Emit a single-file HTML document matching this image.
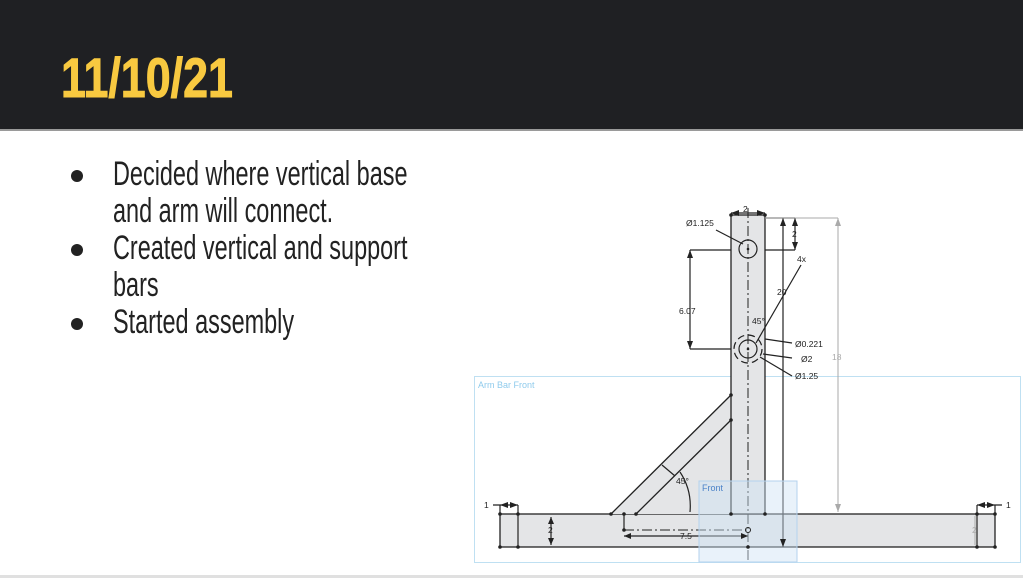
<!DOCTYPE html>
<html><head><meta charset="utf-8"><style>
html,body{margin:0;padding:0;background:#fff;}
svg{display:block;}
</style></head><body>
<svg width="1023" height="578" viewBox="0 0 1023 578" xmlns="http://www.w3.org/2000/svg" font-family="Liberation Sans, sans-serif">
<rect x="0" y="0" width="1023" height="130" fill="#1f2023"/>
<rect x="0" y="129" width="1023" height="2" fill="#9a9a9a"/>
<text x="0" y="0" font-size="56" font-weight="bold" fill="#f8c940" stroke="#f8c940" stroke-width="1" transform="translate(61,97) scale(0.8,1)">11/10/21</text>
<g fill="#222" font-size="34">
<circle cx="77" cy="176" r="6"/>
<circle cx="77" cy="250" r="6"/>
<circle cx="77" cy="324" r="6"/>
<text transform="translate(113,185) scale(0.69,1)">Decided where vertical base</text>
<text transform="translate(113,222) scale(0.69,1)">and arm will connect.</text>
<text transform="translate(113,259) scale(0.69,1)">Created vertical and support</text>
<text transform="translate(113,296) scale(0.69,1)">bars</text>
<text transform="translate(113,333) scale(0.69,1)">Started assembly</text>
</g>
<rect x="0" y="575" width="1023" height="3" fill="#e0e0e0"/>
<!-- drawing -->
<rect x="474.5" y="376.5" width="546" height="186" fill="none" stroke="#bfe0f2" stroke-width="1"/>
<text x="478" y="388" font-size="9" fill="#8fcbec">Arm Bar Front</text>
<g stroke="#222" stroke-width="1.3" fill="#e4e5e7">
<rect x="500" y="514" width="495" height="33"/>
<polygon points="611,514 731,395 731,514" stroke="none"/>
<line x1="611" y1="514" x2="731" y2="395"/>
<line x1="636" y1="514" x2="731" y2="420"/>
<rect x="731" y="215" width="34" height="299"/>
</g>
<g stroke="#222" stroke-width="1.2" fill="none">
<line x1="518" y1="514" x2="518" y2="547"/>
<line x1="977" y1="514" x2="977" y2="547"/>
<circle cx="748" cy="249" r="9"/>
<circle cx="748" cy="349" r="9"/>
<circle cx="748" cy="349" r="14" stroke-dasharray="7,4"/>
<line x1="748" y1="208" x2="748" y2="560" stroke-dasharray="10,3,2,3" stroke-width="1"/>
<line x1="624" y1="530" x2="748" y2="530" stroke-dasharray="10,3,2,3" stroke-width="1"/>
<line x1="731" y1="213" x2="765" y2="213"/>
<line x1="765" y1="218" x2="795" y2="218"/>
<line x1="795" y1="218" x2="795" y2="250"/>
<line x1="783" y1="218" x2="783" y2="547"/>
<line x1="690" y1="250" x2="731" y2="250"/>
<line x1="765" y1="250" x2="795" y2="250"/>
<line x1="690" y1="349" x2="731" y2="349"/>
<line x1="690" y1="250" x2="690" y2="349"/>
<line x1="716" y1="230" x2="743" y2="244"/>
<line x1="801" y1="265" x2="756" y2="343"/>
<line x1="765" y1="339" x2="792" y2="343"/>
<line x1="763" y1="354" x2="792" y2="358"/>
<line x1="760" y1="357" x2="792" y2="376"/>
<line x1="624" y1="536" x2="748" y2="536"/>
<line x1="624" y1="514" x2="624" y2="530"/>
<line x1="551" y1="517" x2="551" y2="545"/>
<line x1="493" y1="505" x2="518" y2="505"/>
<line x1="977" y1="505" x2="1002" y2="505"/>
<line x1="500" y1="505" x2="500" y2="514"/>
<line x1="518" y1="505" x2="518" y2="514"/>
<line x1="977" y1="505" x2="977" y2="514"/>
<line x1="995" y1="505" x2="995" y2="514"/>
<line x1="662" y1="465" x2="675" y2="476"/>
<path d="M680 472 Q 692 490 690 512"/>
</g>
<g stroke="#aaa" stroke-width="1" fill="none">
<line x1="765" y1="218" x2="838" y2="218"/>
<line x1="838" y1="218" x2="838" y2="512"/>
<line x1="975" y1="516" x2="975" y2="545"/>
</g>
<rect x="699" y="481" width="98" height="81" fill="#cfe3f5" fill-opacity="0.45" stroke="#b4d2ee" stroke-width="1"/>
<text x="702" y="491" font-size="9" fill="#4b82c8">Front</text>
<g fill="#222">
<circle cx="731" cy="215" r="1.8"/><circle cx="765" cy="215" r="1.8"/>
<circle cx="731" cy="395" r="1.8"/><circle cx="731" cy="420" r="1.8"/>
<circle cx="611" cy="514" r="1.8"/><circle cx="636" cy="514" r="1.8"/><circle cx="624" cy="514" r="1.8"/>
<circle cx="731" cy="514" r="1.8"/><circle cx="765" cy="514" r="1.8"/>
<circle cx="500" cy="514" r="1.8"/><circle cx="518" cy="514" r="1.8"/><circle cx="500" cy="547" r="1.8"/><circle cx="518" cy="547" r="1.8"/>
<circle cx="977" cy="514" r="1.8"/><circle cx="995" cy="514" r="1.8"/><circle cx="977" cy="547" r="1.8"/><circle cx="995" cy="547" r="1.8"/>
<circle cx="748" cy="547" r="1.8"/><circle cx="624" cy="530" r="1.8"/>
<circle cx="748" cy="249" r="1.3"/><circle cx="748" cy="349" r="1.3"/>
<polygon points="690,250 687,258 693,258"/><polygon points="690,349 687,341 693,341"/>
<polygon points="795,218 792,226 798,226"/><polygon points="795,250 792,242 798,242"/>
<polygon points="783,218 780,226 786,226"/><polygon points="783,547 780,539 786,539"/>
<polygon points="551,517 548,524 554,524"/><polygon points="551,545 548,538 554,538"/>
<polygon points="624,536 631,533 631,539"/><polygon points="748,536 741,533 741,539"/>
<polygon points="731,213 739,210 739,216"/><polygon points="765,213 757,210 757,216"/>
<polygon points="500,505 508,502 508,508"/><polygon points="518,505 510,502 510,508"/>
<polygon points="977,505 985,502 985,508"/><polygon points="995,505 987,502 987,508"/>
</g>
<circle cx="748" cy="530" r="2.5" fill="none" stroke="#222"/>
<polygon points="838,512 835,504 841,504" fill="#aaa"/>
<polygon points="838,218 835,226 841,226" fill="#aaa"/>
<g font-size="8.5" fill="#222">
<text x="743" y="212">2</text>
<text x="686" y="226">Ø1.125</text>
<text x="792" y="237">2</text>
<text x="797" y="262">4x</text>
<text x="777" y="295">20</text>
<text x="679" y="314">6.07</text>
<text x="752" y="324">45°</text>
<text x="795" y="347">Ø0.221</text>
<text x="801" y="362">Ø2</text>
<text x="795" y="379">Ø1.25</text>
<text x="676" y="484">45°</text>
<text x="484" y="508">1</text>
<text x="1006" y="508">1</text>
<text x="548" y="533">2</text>
<text x="680" y="539">7.5</text>
</g>
<text x="832" y="360" font-size="8.5" fill="#aaa">18</text>
<text x="972" y="533" font-size="8.5" fill="#aaa">2</text>
</svg>
</body></html>
